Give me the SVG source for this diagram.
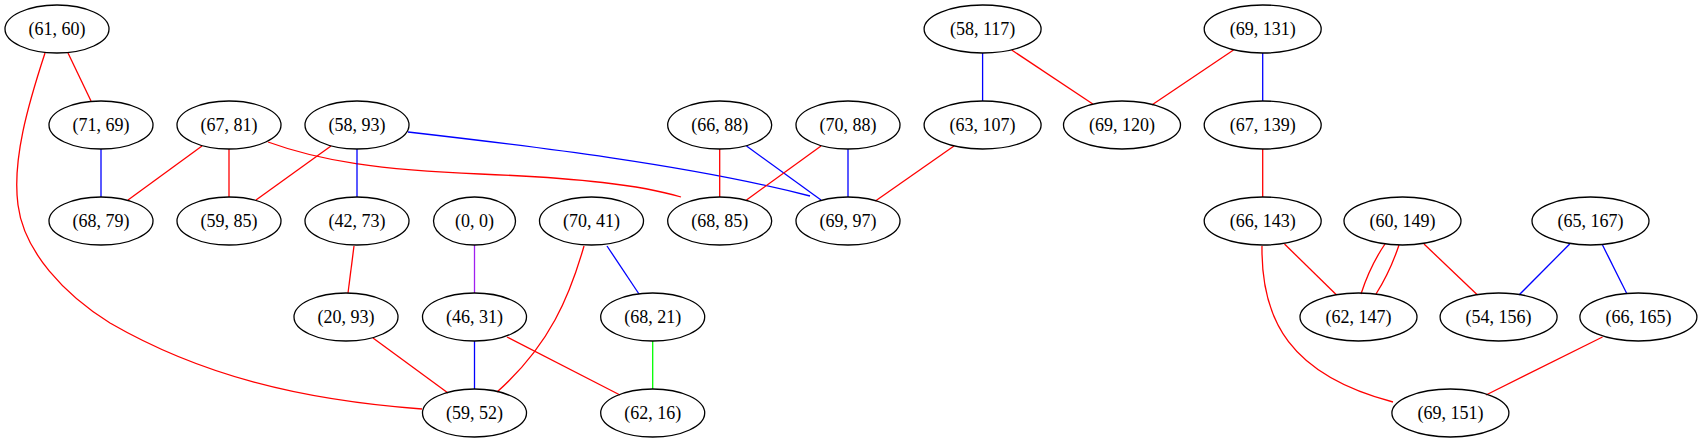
<svg xmlns="http://www.w3.org/2000/svg" width="1702" height="443" viewBox="0 0 1702 443">
<style>
.n ellipse{fill:none;stroke:#000;stroke-width:1.3}
.n text{font-family:"Liberation Serif","Times New Roman",serif;font-size:18px;text-anchor:middle;fill:#000}
#edges path{fill:none;stroke-width:1.3}
.r{stroke:#ff0000}.b{stroke:#0000ff}.p{stroke:#a020f0}.g{stroke:#00ff00}
</style>
<rect width="1702" height="443" fill="#fff"/>
<g id="edges">
<path class="r" d="M68,53L91,101"/>
<path class="r" d="M45,53C28,105 12,160 18,205C24,252 65,295 110,323C200,375 300,400 422,409"/>
<path class="b" d="M101,149V197"/>
<path class="r" d="M202,146L128,200"/>
<path class="r" d="M229,149V197"/>
<path class="r" d="M268,142C320,161 380,170 480,174C580,178 640,185 681,197"/>
<path class="r" d="M331,146L256,200"/>
<path class="b" d="M357,149V197"/>
<path class="b" d="M408,132C530,146 690,165 810,196"/>
<path class="r" d="M354,246L348,293"/>
<path class="p" d="M474.5,245V293"/>
<path class="r" d="M373,338L448,393"/>
<path class="b" d="M474.5,341V389"/>
<path class="r" d="M507,337L620,395"/>
<path class="r" d="M584,246C570,295 550,345 497,392"/>
<path class="b" d="M607,246L639,294"/>
<path class="g" d="M652.7,341V389"/>
<path class="r" d="M719.7,149V197"/>
<path class="b" d="M746.5,146L821,200"/>
<path class="r" d="M821,146L746.5,200"/>
<path class="b" d="M848,149V197"/>
<path class="r" d="M954,146L875.4,201"/>
<path class="b" d="M982.6,53V101"/>
<path class="r" d="M1011.7,50L1092.8,104"/>
<path class="r" d="M1233.5,50L1151.8,105"/>
<path class="b" d="M1262.7,53V101"/>
<path class="r" d="M1262.7,149V197"/>
<path class="r" d="M1284.5,244L1336.6,295"/>
<path class="r" d="M1262,246C1261,320 1290,375 1393,402"/>
<path class="r" d="M1385,244Q1370,266 1361,294"/>
<path class="r" d="M1399,245Q1390,272 1376,294"/>
<path class="r" d="M1424,244L1477.5,295"/>
<path class="b" d="M1569.7,244L1519,295"/>
<path class="b" d="M1602.5,245L1627,294"/>
<path class="r" d="M1602.5,337L1486,395"/>
</g>
<g id="n61_60" class="n"><ellipse cx="57" cy="29" rx="52" ry="24"/><text x="57" y="35">(61, 60)</text></g>
<g id="n71_69" class="n"><ellipse cx="101" cy="125" rx="52" ry="24"/><text x="101" y="131">(71, 69)</text></g>
<g id="n67_81" class="n"><ellipse cx="229" cy="125" rx="52" ry="24"/><text x="229" y="131">(67, 81)</text></g>
<g id="n58_93" class="n"><ellipse cx="357" cy="125" rx="52" ry="24"/><text x="357" y="131">(58, 93)</text></g>
<g id="n68_79" class="n"><ellipse cx="101" cy="221" rx="52" ry="24"/><text x="101" y="227">(68, 79)</text></g>
<g id="n59_85" class="n"><ellipse cx="229" cy="221" rx="52" ry="24"/><text x="229" y="227">(59, 85)</text></g>
<g id="n42_73" class="n"><ellipse cx="357" cy="221" rx="52" ry="24"/><text x="357" y="227">(42, 73)</text></g>
<g id="n0_0" class="n"><ellipse cx="474.5" cy="221" rx="41" ry="24"/><text x="474.5" y="227">(0, 0)</text></g>
<g id="n70_41" class="n"><ellipse cx="591.5" cy="221" rx="52" ry="24"/><text x="591.5" y="227">(70, 41)</text></g>
<g id="n66_88" class="n"><ellipse cx="719.7" cy="125" rx="52" ry="24"/><text x="719.7" y="131">(66, 88)</text></g>
<g id="n70_88" class="n"><ellipse cx="848" cy="125" rx="52" ry="24"/><text x="848" y="131">(70, 88)</text></g>
<g id="n68_85" class="n"><ellipse cx="719.7" cy="221" rx="52" ry="24"/><text x="719.7" y="227">(68, 85)</text></g>
<g id="n69_97" class="n"><ellipse cx="848" cy="221" rx="52" ry="24"/><text x="848" y="227">(69, 97)</text></g>
<g id="n20_93" class="n"><ellipse cx="346" cy="317" rx="52" ry="24"/><text x="346" y="323">(20, 93)</text></g>
<g id="n46_31" class="n"><ellipse cx="474.5" cy="317" rx="52" ry="24"/><text x="474.5" y="323">(46, 31)</text></g>
<g id="n68_21" class="n"><ellipse cx="652.7" cy="317" rx="52" ry="24"/><text x="652.7" y="323">(68, 21)</text></g>
<g id="n59_52" class="n"><ellipse cx="474.5" cy="413" rx="52" ry="24"/><text x="474.5" y="419">(59, 52)</text></g>
<g id="n62_16" class="n"><ellipse cx="652.7" cy="413" rx="52" ry="24"/><text x="652.7" y="419">(62, 16)</text></g>
<g id="n58_117" class="n"><ellipse cx="982.6" cy="29" rx="58.5" ry="24"/><text x="982.6" y="35">(58, 117)</text></g>
<g id="n63_107" class="n"><ellipse cx="982.6" cy="125" rx="58.5" ry="24"/><text x="982.6" y="131">(63, 107)</text></g>
<g id="n69_120" class="n"><ellipse cx="1122" cy="125" rx="58.5" ry="24"/><text x="1122" y="131">(69, 120)</text></g>
<g id="n69_131" class="n"><ellipse cx="1262.7" cy="29" rx="58.5" ry="24"/><text x="1262.7" y="35">(69, 131)</text></g>
<g id="n67_139" class="n"><ellipse cx="1262.7" cy="125" rx="58.5" ry="24"/><text x="1262.7" y="131">(67, 139)</text></g>
<g id="n66_143" class="n"><ellipse cx="1262.7" cy="221" rx="58.5" ry="24"/><text x="1262.7" y="227">(66, 143)</text></g>
<g id="n60_149" class="n"><ellipse cx="1402.5" cy="221" rx="58.5" ry="24"/><text x="1402.5" y="227">(60, 149)</text></g>
<g id="n65_167" class="n"><ellipse cx="1590.5" cy="221" rx="58.5" ry="24"/><text x="1590.5" y="227">(65, 167)</text></g>
<g id="n62_147" class="n"><ellipse cx="1358.5" cy="317" rx="58.5" ry="24"/><text x="1358.5" y="323">(62, 147)</text></g>
<g id="n54_156" class="n"><ellipse cx="1498.6" cy="317" rx="58.5" ry="24"/><text x="1498.6" y="323">(54, 156)</text></g>
<g id="n66_165" class="n"><ellipse cx="1638.4" cy="317" rx="58.5" ry="24"/><text x="1638.4" y="323">(66, 165)</text></g>
<g id="n69_151" class="n"><ellipse cx="1450.4" cy="413" rx="58.5" ry="24"/><text x="1450.4" y="419">(69, 151)</text></g>
</svg>
